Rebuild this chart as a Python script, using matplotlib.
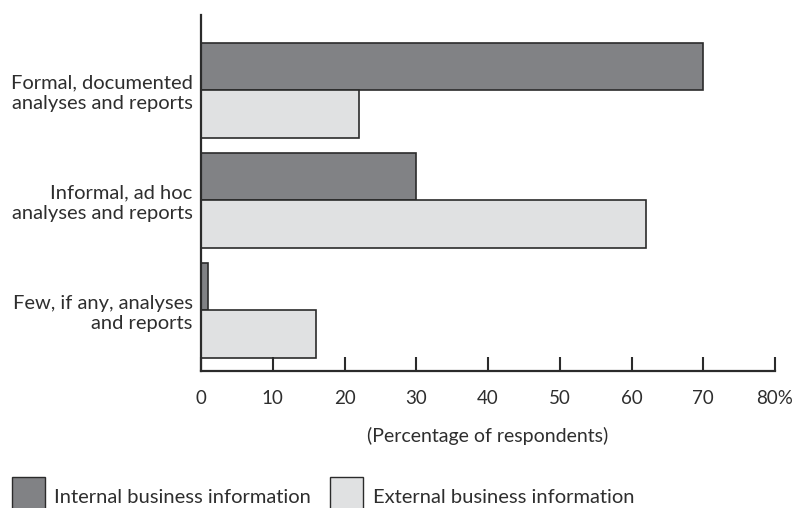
import matplotlib
matplotlib.use("Agg")
import matplotlib.pyplot as plt
from matplotlib.patches import Patch
import numpy as np

categories = ["Formal, documented\nanalyses and reports",
              "Informal, ad hoc\nanalyses and reports",
              "Few, if any, analyses\nand reports"]
internal = [70, 30, 1]
external = [22, 62, 16]
series_names = ["Internal business information", "External business information"]
xticks = [0, 10, 20, 30, 40, 50, 60, 70, 80]
xticklabels = ["0", "10", "20", "30", "40", "50", "60", "70", "80%"]

dark = "#818285"
light = "#e0e1e2"
edge = "#2b2b2b"
txt = "#2e2e2e"

plt.rcParams['font.family'] = ['Lato', 'DejaVu Sans']

fig = plt.figure(figsize=(7.97, 5.08), dpi=100)
ax = fig.add_axes([0.2522, 0.2697, 0.7202, 0.7008])

y = np.arange(len(categories))
h = 0.43
ax.barh(y - h / 2, internal, height=h, color=dark, edgecolor=edge, linewidth=1.2)
ax.barh(y + h / 2, external, height=h, color=light, edgecolor=edge, linewidth=1.2)

ax.set_xlim(0, 80)
ax.set_ylim(2.551, -0.685)
ax.set_xticks(xticks)
ax.set_xticklabels(xticklabels, fontsize=13.5, color=txt)
ax.set_yticks(y)
ax.set_yticklabels(categories, fontsize=14.5, color=txt, linespacing=1.2)
ax.tick_params(axis='y', length=0, pad=6)
ax.tick_params(axis='x', direction='in', length=10, width=1.5, color=edge, pad=14)
for s in ['top', 'right']:
    ax.spines[s].set_visible(False)
for s in ['left', 'bottom']:
    ax.spines[s].set_linewidth(1.6)
    ax.spines[s].set_color(edge)

ax.set_xlabel("(Percentage of respondents)", fontsize=14, color=txt, labelpad=14)

handles = [Patch(facecolor=dark, edgecolor=edge, linewidth=1.0),
           Patch(facecolor=light, edgecolor=edge, linewidth=1.0)]
fig.legend(handles, series_names, loc='upper left', bbox_to_anchor=(0.015, 0.061),
           ncol=2, frameon=False, fontsize=14.5, handlelength=1.65, handleheight=2.6,
           handletextpad=0.45, columnspacing=0.95, borderaxespad=0, borderpad=0,
           labelcolor=txt)

fig.savefig("out.png", dpi=100)
